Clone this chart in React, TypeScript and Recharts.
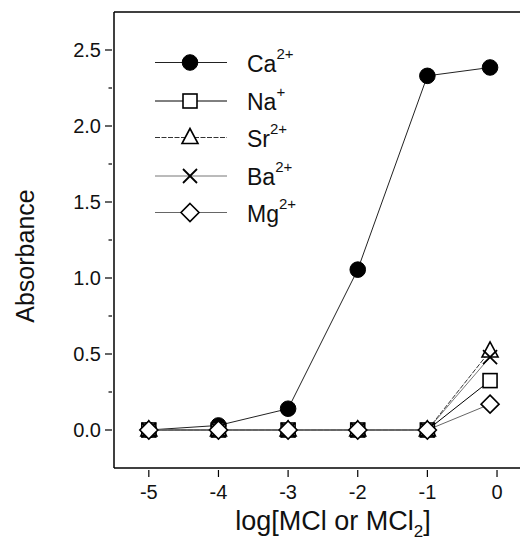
import React from 'react';
import { LineChart, Line, XAxis, YAxis, ReferenceLine } from 'recharts';

const concentrations = [-5, -4, -3, -2, -1, -0.1];
const caAbs = [0, 0.03, 0.14, 1.055, 2.33, 2.385];
const naAbs = [0, 0, 0, 0, 0, 0.325];
const srAbs = [0, 0, 0, 0, 0, 0.52];
const baAbs = [0, 0, 0, 0, 0, 0.48];
const mgAbs = [0, 0, 0, 0, 0, 0.17];
const xTicks = [-5, -4, -3, -2, -1, 0];
const yTicks = [0, 0.25, 0.5, 0.75, 1, 1.25, 1.5, 1.75, 2, 2.25, 2.5];
const yMajor = [0, 0.5, 1, 1.5, 2, 2.5];

const data = concentrations.map((x, i) => ({
  x,
  ca: caAbs[i],
  na: naAbs[i],
  sr: srAbs[i],
  ba: baAbs[i],
  mg: mgAbs[i],
}));

type Shape = 'circle' | 'square' | 'triangle' | 'cross' | 'diamond';

const series: { key: string; ion: string; charge: string; shape: Shape; stroke: string; dash?: string }[] = [
  { key: 'ca', ion: 'Ca', charge: '2+', shape: 'circle', stroke: '#222' },
  { key: 'na', ion: 'Na', charge: '+', shape: 'square', stroke: '#000' },
  { key: 'sr', ion: 'Sr', charge: '2+', shape: 'triangle', stroke: '#333', dash: '5 1.5' },
  { key: 'ba', ion: 'Ba', charge: '2+', shape: 'cross', stroke: '#777' },
  { key: 'mg', ion: 'Mg', charge: '2+', shape: 'diamond', stroke: '#666' },
];

const FONT = '"Liberation Sans", Arial, Helvetica, sans-serif';

function Marker({ shape, cx, cy }: { shape: Shape; cx: number; cy: number }) {
  switch (shape) {
    case 'circle':
      return <circle cx={cx} cy={cy} r={7.8} fill="#000" stroke="#000" />;
    case 'square':
      return <rect x={cx - 7} y={cy - 7} width={14} height={14} fill="#fff" stroke="#000" strokeWidth={1.6} />;
    case 'triangle':
      return (
        <polygon
          points={`${cx},${cy - 9} ${cx - 8},${cy + 6} ${cx + 8},${cy + 6}`}
          fill="#fff"
          stroke="#000"
          strokeWidth={1.6}
        />
      );
    case 'cross':
      return (
        <g stroke="#000" strokeWidth={1.8}>
          <line x1={cx - 7} y1={cy - 7} x2={cx + 7} y2={cy + 7} />
          <line x1={cx - 7} y1={cy + 7} x2={cx + 7} y2={cy - 7} />
        </g>
      );
    case 'diamond':
      return (
        <polygon
          points={`${cx},${cy - 9} ${cx + 9},${cy} ${cx},${cy + 9} ${cx - 9},${cy}`}
          fill="#fff"
          stroke="#000"
          strokeWidth={1.6}
        />
      );
  }
  return null;
}

const YTick = (props: any) => {
  const { x, y, payload } = props;
  const major = yMajor.some((v) => Math.abs(v - payload.value) < 1e-6);
  return (
    <g>
      <line x1={x - (major ? 7 : 3.5)} y1={y} x2={x} y2={y} stroke="#000" strokeWidth={1.2} />
      {major && (
        <text x={x - 11} y={y} dy={7} textAnchor="end" fontSize={20} fontFamily={FONT} fill="#111">
          {payload.value.toFixed(1)}
        </text>
      )}
    </g>
  );
};

const XTick = (props: any) => {
  const { x, y, payload } = props;
  return (
    <g>
      <line x1={x} y1={y} x2={x} y2={y + 7} stroke="#000" strokeWidth={1.2} />
      <text x={x} y={y + 29} textAnchor="middle" fontSize={20} fontFamily={FONT} fill="#111">
        {String(payload.value)}
      </text>
    </g>
  );
};

const LegendOverlay = () => {
  const rowY = [22.5, 61, 97.5, 136, 172.5];
  return (
    <svg
      width={160}
      height={200}
      style={{ position: 'absolute', left: 150, top: 40, display: 'block', pointerEvents: 'none' }}
    >
      {series.map((s, i) => (
        <g key={s.key}>
          <line x1={5} y1={rowY[i]} x2={77} y2={rowY[i]} stroke={s.stroke} strokeWidth={1} strokeDasharray={s.dash} />
          <Marker shape={s.shape} cx={40} cy={rowY[i]} />
          <text x={97} y={rowY[i] + 9} fontSize={23} fontFamily={FONT} fill="#111">
            {s.ion}
            <tspan dy={-13} fontSize={15}>
              {s.charge}
            </tspan>
          </text>
        </g>
      ))}
    </svg>
  );
};

export default function App() {
  return (
    <div style={{ position: 'absolute', left: 0, top: 0, width: 520, height: 543, background: '#fff' }}>
      <LineChart width={520} height={543} data={data} margin={{ top: 12, right: 0, bottom: 45, left: 54 }}>
        <XAxis
          dataKey="x"
          type="number"
          domain={[-5.5, 0.33]}
          ticks={xTicks}
          allowDataOverflow
          axisLine={{ stroke: '#000', strokeWidth: 1.5 }}
          tickLine={false}
          tickSize={0}
          tick={<XTick />}
          height={30}
          label={{
            content: () => (
              <text x={333} y={530} textAnchor="middle" fontSize={27} fontFamily={FONT} fill="#111">
                log[MCl or MCl
                <tspan dy={7} fontSize={17}>
                  2
                </tspan>
                <tspan dy={-7}>]</tspan>
              </text>
            ),
          }}
        />
        <YAxis
          type="number"
          domain={[-0.25, 2.75]}
          ticks={yTicks}
          allowDataOverflow
          width={60}
          axisLine={{ stroke: '#000', strokeWidth: 1.5 }}
          tickLine={false}
          tickSize={0}
          tick={<YTick />}
          label={{
            content: () => {
              const cy = 256;
              return (
                <text
                  x={25}
                  y={cy}
                  transform={`rotate(-90, 25, ${cy})`}
                  textAnchor="middle"
                  dominantBaseline="central"
                  fontSize={25}
                  fontFamily={FONT}
                  fill="#111"
                >
                  Absorbance
                </text>
              );
            },
          }}
        />
        <ReferenceLine y={2.75} stroke="#000" strokeWidth={1.5} ifOverflow="visible" />
        {series.map((s) => (
          <Line
            key={s.key}
            dataKey={s.key}
            type="linear"
            stroke={s.stroke}
            strokeWidth={1}
            strokeDasharray={s.dash}
            isAnimationActive={false}
            dot={(p: any) => <Marker key={`${s.key}-${p.index}`} shape={s.shape} cx={p.cx} cy={p.cy} />}
            activeDot={false}
          />
        ))}
      </LineChart>
      <LegendOverlay />
    </div>
  );
}
